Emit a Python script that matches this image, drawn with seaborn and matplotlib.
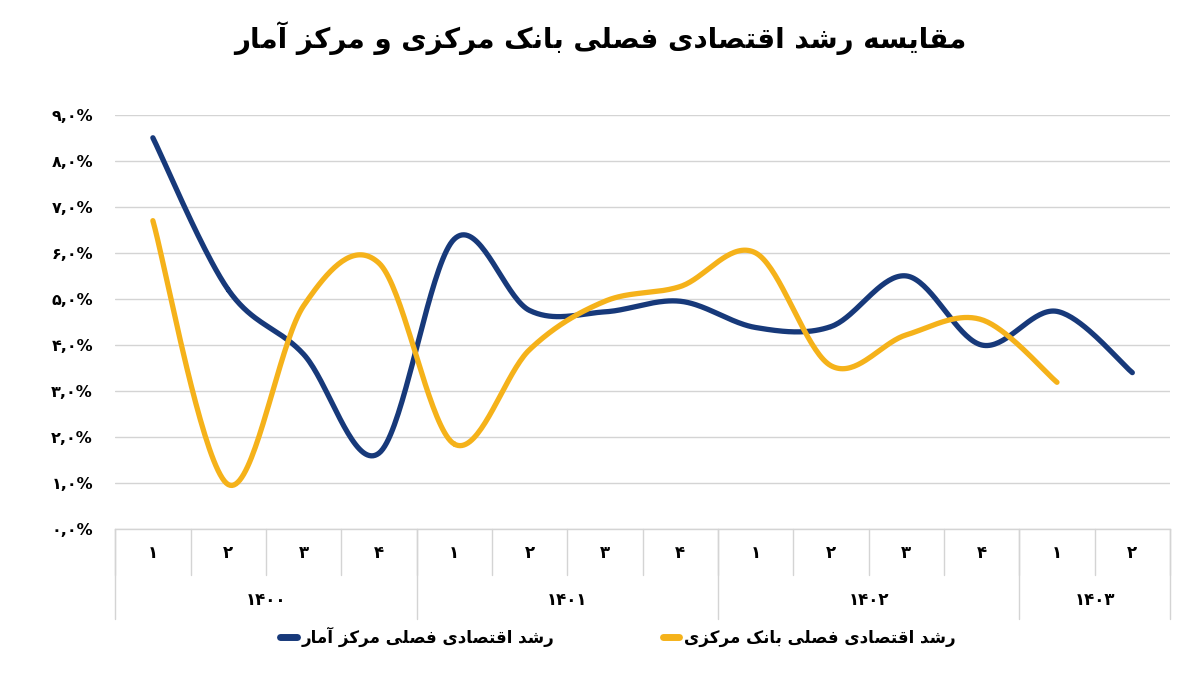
import numpy as np
import pandas as pd
import seaborn as sns
import matplotlib
matplotlib.use("Agg")
import matplotlib.pyplot as plt
from matplotlib.lines import Line2D

# ---------------------------------------------------------
# Daten
# ---------------------------------------------------------

years = ["۱۴۰۰", "۱۴۰۱", "۱۴۰۲", "۱۴۰۳"]
quarters_per_year = [4, 4, 4, 2]
quarter_labels = ["۱", "۲", "۳", "۴", "۱", "۲", "۳", "۴", "۱", "۲", "۳", "۴", "۱", "۲"]

name_amar = "رشد اقتصادی فصلی مرکز آمار"
name_bank = "رشد اقتصادی فصلی بانک مرکزی"
title = "مقایسه رشد اقتصادی فصلی بانک مرکزی و مرکز آمار"

growth_amar = [8.5, 5.2, 3.8, 1.65, 6.3, 4.75, 4.72, 4.95, 4.38, 4.4, 5.5, 4.0, 4.73, 3.4]
growth_bank = [6.7, 0.97, 4.85, 5.78, 1.85, 3.9, 4.95, 5.27, 6.0, 3.55, 4.22, 4.55, 3.19]

y_ticks = [0, 1, 2, 3, 4, 5, 6, 7, 8, 9]

color_amar = "#17397A"
color_bank = "#F5B21A"

# ---------------------------------------------------------
# Persisch: einfache Formung + RTL
# ---------------------------------------------------------

# (isoliert, final, initial, medial) ; None = verbindet nicht nach links
FORMS = {
    "ا": (0xFE8D, 0xFE8E, None, None),
    "آ": (0xFE81, 0xFE82, None, None),
    "ب": (0xFE8F, 0xFE90, 0xFE91, 0xFE92),
    "ت": (0xFE95, 0xFE96, 0xFE97, 0xFE98),
    "د": (0xFEA9, 0xFEAA, None, None),
    "ر": (0xFEAD, 0xFEAE, None, None),
    "ز": (0xFEAF, 0xFEB0, None, None),
    "س": (0xFEB1, 0xFEB2, 0xFEB3, 0xFEB4),
    "ش": (0xFEB5, 0xFEB6, 0xFEB7, 0xFEB8),
    "ص": (0xFEB9, 0xFEBA, 0xFEBB, 0xFEBC),
    "ف": (0xFED1, 0xFED2, 0xFED3, 0xFED4),
    "ق": (0xFED5, 0xFED6, 0xFED7, 0xFED8),
    "ل": (0xFEDD, 0xFEDE, 0xFEDF, 0xFEE0),
    "م": (0xFEE1, 0xFEE2, 0xFEE3, 0xFEE4),
    "ن": (0xFEE5, 0xFEE6, 0xFEE7, 0xFEE8),
    "ه": (0xFEE9, 0xFEEA, 0xFEEB, 0xFEEC),
    "و": (0xFEED, 0xFEEE, None, None),
    "ک": (0xFB8E, 0xFB8F, 0xFB90, 0xFB91),
    "ی": (0xFBFC, 0xFBFD, 0xFBFE, 0xFBFF),
}


def fa(text):
    out = []
    for i, ch in enumerate(text):
        if ch not in FORMS:
            out.append(ch)
            continue
        prev = text[i - 1] if i > 0 else ""
        nxt = text[i + 1] if i + 1 < len(text) else ""
        join_prev = prev in FORMS and FORMS[prev][2] is not None
        join_next = nxt in FORMS and FORMS[ch][2] is not None
        f = FORMS[ch]
        if join_prev and join_next:
            code = f[3]
        elif join_prev:
            code = f[1]
        elif join_next:
            code = f[2]
        else:
            code = f[0]
        out.append(chr(code))
    return "".join(out)[::-1]


def smooth(values):
    # Excel-artige geglaettete Linie (Catmull-Rom)
    x = np.arange(len(values), dtype=float)
    y = np.array(values, dtype=float)
    px = np.concatenate([[x[0]], x, [x[-1]]])
    py = np.concatenate([[y[0]], y, [y[-1]]])
    t = np.linspace(0, 1, 40)
    xs, ys = [], []
    for i in range(len(values) - 1):
        for p, acc in ((px, xs), (py, ys)):
            p0, p1, p2, p3 = p[i], p[i + 1], p[i + 2], p[i + 3]
            acc.extend(0.5 * (2 * p1 + (-p0 + p2) * t
                              + (2 * p0 - 5 * p1 + 4 * p2 - p3) * t ** 2
                              + (-p0 + 3 * p1 - 3 * p2 + p3) * t ** 3))
    return np.array(xs), np.array(ys)


# ---------------------------------------------------------
# Plot
# ---------------------------------------------------------

sns.set_theme(style="whitegrid")
plt.rcParams["font.family"] = ["DejaVu Sans"]

fig = plt.figure(figsize=(12, 6.75), dpi=100)
ax = fig.add_axes([0.096, 0.216, 0.879, 0.614])

frames = []
for name, vals in ((name_amar, growth_amar), (name_bank, growth_bank)):
    sx, sy = smooth(vals)
    frames.append(pd.DataFrame({"x": sx, "y": sy, "series": name, "order": np.arange(len(sx))}))
df = pd.concat(frames, ignore_index=True)

sns.lineplot(data=df, x="x", y="y", hue="series", units="series", estimator=None,
             sort=False, palette={name_amar: color_amar, name_bank: color_bank},
             linewidth=3.8, legend=False, ax=ax, solid_capstyle="round")

n = len(quarter_labels)
ax.set_xlim(-0.5, n - 0.5)
ax.set_ylim(0, 9)
ax.set_yticks(y_ticks)
ax.set_yticklabels([f"{v:.1f}%".replace(".", ",").translate(str.maketrans("0123456789", "۰۱۲۳۴۵۶۷۸۹"))
                    for v in y_ticks], fontsize=11.5, fontweight="bold", color="black")
ax.tick_params(axis="y", length=0, pad=16)
ax.set_xticks([])
ax.set_xlabel("")
ax.set_ylabel("")
ax.grid(axis="y", color="#d4d4d4", linewidth=1)
ax.grid(axis="x", visible=False)
for s in ["top", "right", "left"]:
    ax.spines[s].set_visible(False)
ax.spines["bottom"].set_color("#d4d4d4")
ax.spines["bottom"].set_linewidth(1)

# zweistufige Kategorie-Achse
tr = ax.get_xaxis_transform()
line_kw = dict(color="#d4d4d4", linewidth=1, transform=tr, clip_on=False)
for i, q in enumerate(quarter_labels):
    ax.text(i, -0.058, q, transform=tr, ha="center", va="center", fontsize=12,
            fontweight="bold", color="black")
for b in range(n + 1):
    ax.plot([b - 0.5, b - 0.5], [0, -0.111], **line_kw)
start = 0
for yr, cnt in zip(years, quarters_per_year):
    ax.text(start + cnt / 2 - 0.5, -0.172, yr, transform=tr, ha="center", va="center",
            fontsize=12, fontweight="bold", color="black")
    ax.plot([start - 0.5, start - 0.5], [0, -0.217], **line_kw)
    start += cnt
ax.plot([n - 0.5, n - 0.5], [0, -0.217], **line_kw)

handles = [Line2D([], [], color=color_amar, linewidth=5, solid_capstyle="round"),
           Line2D([], [], color=color_bank, linewidth=5, solid_capstyle="round")]
fig.legend(handles, [fa(name_amar), fa(name_bank)], loc="center", bbox_to_anchor=(0.515, 0.056),
           ncol=2, frameon=False, prop={"size": 12, "weight": "bold"},
           handlelength=1.0, columnspacing=6.5, handletextpad=0.3, labelcolor="black")

fig.text(0.5, 0.944, fa(title), ha="center", va="center", fontsize=20, fontweight="bold",
         color="black")

plt.savefig("out.png", dpi=100)
